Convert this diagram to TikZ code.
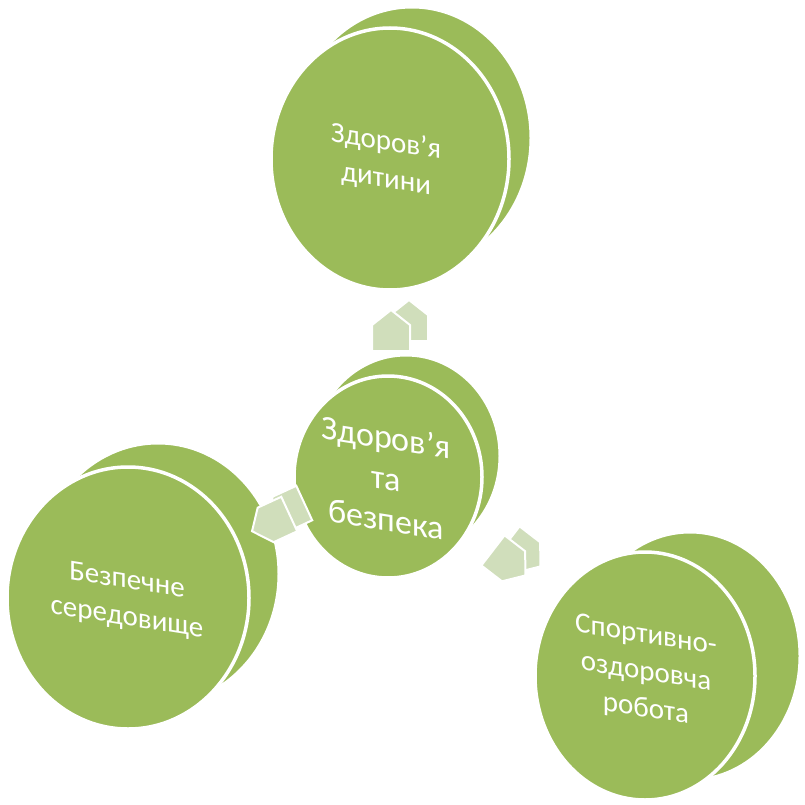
\documentclass[tikz,border=0pt]{standalone}
\usepackage{fontspec}
\setmainfont{Carlito}
\definecolor{discgreen}{RGB}{155,187,89}
\definecolor{arrowgreen}{RGB}{208,222,187}
\tikzset{
  discback/.style={fill=discgreen, draw=white, line width=3pt},
  discfront/.style={fill=discgreen, draw=white, line width=3.5pt},
  disctext/.style={text=white, align=center, yslant=-0.16, font=\fontsize{29}{37}\selectfont},
  arrowpart/.style={fill=arrowgreen, draw=white, line width=2pt, line join=miter},
}
\newcommand{\arrowshape}{(0,-22) -- (19,-7) -- (19,19) -- (-19,19) -- (-19,-7) -- cycle}
\begin{document}
\begin{tikzpicture}[x=1pt,y=-1pt]
\fill[white] (0,0) rectangle (804,805);
\useasboundingbox (0,0) rectangle (804,805);

% top disc
\path[discback] (412,138) ellipse [x radius=119pt, y radius=131pt];
\path[discfront] (390,159) ellipse [x radius=119pt, y radius=131pt];
\node[disctext] (top) at (386,161) {Здоров’я\\дитини};

% left disc
\path[discback] (158,574) ellipse [x radius=121pt, y radius=131pt];
\path[discfront] (128,598) ellipse [x radius=121pt, y radius=131pt];
\node[disctext] (left) at (127,600) {Безпечне\\середовище};

% right disc
\path[discback] (690,656) ellipse [x radius=110pt, y radius=124pt];
\path[discfront] (645,676) ellipse [x radius=110pt, y radius=124pt];
\node[disctext] (right) at (646,673) {Спортивно-\\оздоровча\\робота};

% center disc
\path[discback] (406,456) ellipse [x radius=94pt, y radius=101pt];
\path[discfront] (388,477) ellipse [x radius=94pt, y radius=101pt];
\node[disctext, font=\fontsize{34}{41}\selectfont] (center) at (386,478) {Здоров’я\\та\\безпека};

% arrows (back extrusion, then front face)
\begin{scope}[shift={(409,322)}]
  \path[arrowpart] \arrowshape;
\end{scope}
\begin{scope}[shift={(391,332)}]
  \path[arrowpart] \arrowshape;
\end{scope}
\coordinate (a1) at (391,332);

\begin{scope}[shift={(287,511)}, rotate=114.8]
  \path[arrowpart] \arrowshape;
\end{scope}
\begin{scope}[shift={(272,522)}, rotate=114.8]
  \path[arrowpart] \arrowshape;
\end{scope}
\coordinate (a2) at (272,522);

\begin{scope}[shift={(523,553)}, rotate=-127.6]
  \path[arrowpart] \arrowshape;
\end{scope}
\begin{scope}[shift={(508,562)}, rotate=-127.6]
  \path[arrowpart] \arrowshape;
\end{scope}
\coordinate (a3) at (508,562);
\end{tikzpicture}
\end{document}
